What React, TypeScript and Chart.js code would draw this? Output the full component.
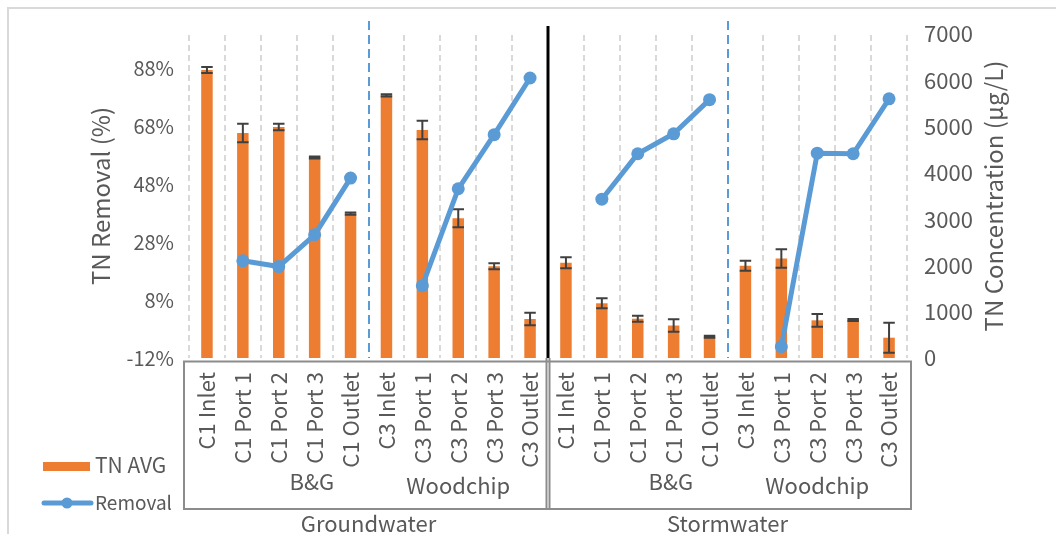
import { useEffect, useRef } from 'react';
import { Chart, registerables } from 'chart.js';

Chart.register(...registerables);

// Sampling points along each column, Groundwater columns first, then Stormwater
const categories = [
  'C1 Inlet', 'C1 Port 1', 'C1 Port 2', 'C1 Port 3', 'C1 Outlet',
  'C3 Inlet', 'C3 Port 1', 'C3 Port 2', 'C3 Port 3', 'C3 Outlet',
  'C1 Inlet', 'C1 Port 1', 'C1 Port 2', 'C1 Port 3', 'C1 Outlet',
  'C3 Inlet', 'C3 Port 1', 'C3 Port 2', 'C3 Port 3', 'C3 Outlet',
];
const mediaGroups = ['B&G', 'Woodchip', 'B&G', 'Woodchip'];
const waterGroups = ['Groundwater', 'Stormwater'];

// Mean TN concentration (µg/L) and its error
const tnAvg = [
  6220, 4860, 4990, 4330, 3120, 5675, 4925, 3020, 1980, 842,
  2057, 1182, 849, 702, 460, 1994, 2149, 814, 821, 439,
];
const tnErr = [
  65, 200, 69, 22, 25, 25, 200, 195, 65, 136,
  119, 108, 65, 134, 22, 108, 199, 137, 22, 324,
];

// TN removal (%) relative to the inlet; no value at the inlets
const removal = [
  null, 21.6, 19.6, 30.6, 50.2, null, 13.0, 46.5, 65.2, 84.8,
  null, 42.9, 58.6, 65.5, 77.3, null, -8.1, 58.8, 58.6, 77.6,
];

const removalTicks = [-12, 8, 28, 48, 68, 88];
const concMin = 0;
const concMax = 7000;
const concStep = 1000;

const FONT = "'Noto Sans CJK SC', 'Noto Sans', sans-serif";
const TEXT = '#595959';
const ORANGE = '#ED7D31';
const BLUE = '#5B9BD5';

const decor = {
  id: 'decor',
  beforeDatasetsDraw(chart: any) {
    const { ctx, chartArea: a, scales } = chart;
    const x = scales.x;
    const step = x.getPixelForValue(1) - x.getPixelForValue(0);
    const x0 = x.getPixelForValue(0) - step / 2;
    ctx.save();
    // outer frame
    ctx.strokeStyle = '#d9d9d9';
    ctx.lineWidth = 2;
    ctx.beginPath();
    ctx.moveTo(8, 560);
    ctx.lineTo(8, 8);
    ctx.lineTo(1070, 8);
    ctx.stroke();
    // column separators
    for (let i = 0; i <= categories.length; i++) {
      const bx = Math.round(x0 + i * step);
      ctx.beginPath();
      if (i === 10) {
        ctx.setLineDash([]);
        ctx.strokeStyle = '#000';
        ctx.lineWidth = 3;
        ctx.moveTo(bx, a.top - 8);
      } else if (i === 5 || i === 15) {
        ctx.setLineDash([9, 5]);
        ctx.strokeStyle = BLUE;
        ctx.lineWidth = 2;
        ctx.moveTo(bx, a.top - 13);
      } else {
        ctx.setLineDash([6, 4]);
        ctx.strokeStyle = '#d9d9d9';
        ctx.lineWidth = 2;
        ctx.moveTo(bx, a.top + 1);
      }
      ctx.lineTo(bx, a.bottom);
      ctx.stroke();
    }
    ctx.restore();
  },
  afterDatasetDraw(chart: any, args: any) {
    if (args.index !== 0) return;
    const { ctx, scales } = chart;
    const x = scales.x;
    const y = scales.yR;
    const meta = chart.getDatasetMeta(0);
    ctx.save();
    ctx.strokeStyle = '#404040';
    ctx.lineWidth = 2;
    tnAvg.forEach((v, i) => {
      const cx = x.getPixelForValue(i);
      const half = meta.data[i].width / 2;
      const yt = y.getPixelForValue(v + tnErr[i]);
      const yb = y.getPixelForValue(v - tnErr[i]);
      ctx.beginPath();
      ctx.moveTo(cx, yt);
      ctx.lineTo(cx, yb);
      ctx.moveTo(cx - half, yt);
      ctx.lineTo(cx + half, yt);
      ctx.moveTo(cx - half, yb);
      ctx.lineTo(cx + half, yb);
      ctx.stroke();
    });
    ctx.restore();
  },
  afterDraw(chart: any) {
    const { ctx, chartArea: a, scales } = chart;
    const x = scales.x;
    const step = x.getPixelForValue(1) - x.getPixelForValue(0);
    const x0 = x.getPixelForValue(0) - step / 2;
    const boxL = a.left - 5;
    const boxR = a.right + 4;
    const boxT = a.bottom + 3.5;
    const boxB = 509;
    ctx.save();
    // multi-level category box
    ctx.strokeStyle = '#8c8c8c';
    ctx.lineWidth = 2;
    ctx.strokeRect(boxL, boxT, boxR - boxL, boxB - boxT);
    const mid = x0 + 10 * step;
    ctx.beginPath();
    ctx.moveTo(mid - 1.5, a.bottom);
    ctx.lineTo(mid - 1.5, boxB);
    ctx.moveTo(mid + 1.5, a.bottom);
    ctx.lineTo(mid + 1.5, boxB);
    ctx.stroke();

    ctx.fillStyle = TEXT;
    // sampling point labels
    ctx.font = `22px ${FONT}`;
    categories.forEach((c, i) => {
      ctx.save();
      ctx.translate(x.getPixelForValue(i), a.bottom + 14);
      ctx.rotate(-Math.PI / 2);
      ctx.textAlign = 'right';
      ctx.textBaseline = 'middle';
      ctx.fillText(c, 0, 0);
      ctx.restore();
    });
    // media labels
    ctx.textAlign = 'center';
    ctx.textBaseline = 'alphabetic';
    mediaGroups.forEach((g, k) => {
      const cx = x0 + (k * 5 + 2.5) * step;
      if (g === 'B&G') ctx.fillText(g, cx + 33, 490);
      else ctx.fillText(g, cx, 494);
    });
    // water source labels
    waterGroups.forEach((g, k) => {
      const cx = x0 + (k * 10 + 5) * step;
      ctx.fillText(g, cx, 532);
    });

    // axis titles
    ctx.font = `24px ${FONT}`;
    ctx.save();
    ctx.translate(110, (a.top + a.bottom) / 2);
    ctx.rotate(-Math.PI / 2);
    ctx.fillText('TN Removal (%)', 0, 0);
    ctx.restore();
    ctx.save();
    ctx.translate(1003, (a.top + a.bottom) / 2);
    ctx.rotate(-Math.PI / 2);
    ctx.fillText('TN Concentration (µg/L)', 0, 0);
    ctx.restore();

    // legend
    ctx.textAlign = 'left';
    ctx.fillStyle = ORANGE;
    ctx.fillRect(43, 462, 47, 9);
    ctx.fillStyle = TEXT;
    ctx.font = `21px ${FONT}`;
    ctx.fillText(chart.data.datasets[0].label, 95, 473);
    ctx.strokeStyle = BLUE;
    ctx.lineWidth = 5;
    ctx.lineCap = 'round';
    ctx.beginPath();
    ctx.moveTo(44, 503);
    ctx.lineTo(91, 503);
    ctx.stroke();
    ctx.fillStyle = BLUE;
    ctx.beginPath();
    ctx.arc(67, 503, 5.5, 0, Math.PI * 2);
    ctx.fill();
    ctx.fillStyle = TEXT;
    ctx.font = `19px ${FONT}`;
    ctx.fillText(chart.data.datasets[1].label, 95, 510);
    ctx.restore();
  },
};

export default function App() {
  const ref = useRef<HTMLCanvasElement>(null);
  useEffect(() => {
    document.body.style.margin = '0';
    const chart = new Chart(ref.current as HTMLCanvasElement, {
      type: 'bar',
      data: {
        labels: categories,
        datasets: [
          {
            type: 'bar',
            label: 'TN AVG',
            data: tnAvg,
            yAxisID: 'yR',
            backgroundColor: ORANGE,
            barPercentage: 0.32,
            categoryPercentage: 1,
            order: 2,
          },
          {
            type: 'line',
            label: 'Removal',
            data: removal as any,
            yAxisID: 'yL',
            borderColor: BLUE,
            backgroundColor: BLUE,
            borderWidth: 5,
            pointRadius: 6.5,
            pointHoverRadius: 6.5,
            pointBorderWidth: 0,
            spanGaps: false,
            order: 1,
          },
        ],
      } as any,
      options: {
        responsive: false,
        animation: false,
        devicePixelRatio: 1,
        layout: { padding: { top: 34, left: 0, right: 0, bottom: 0 } },
        plugins: { legend: { display: false }, tooltip: { enabled: false } },
        scales: {
          x: {
            type: 'category',
            offset: true,
            grid: { display: false, drawTicks: false },
            border: { display: false },
            ticks: { display: false },
            afterFit: (s: any) => { s.height = 176; },
          },
          yL: {
            position: 'left',
            min: -12,
            max: 100,
            grid: { display: false, drawTicks: false },
            border: { display: false },
            afterBuildTicks: (s: any) => { s.ticks = removalTicks.map((v) => ({ value: v })); },
            ticks: {
              padding: 15,
              color: TEXT,
              font: { family: FONT, size: 20 },
              callback: (v: any) => `${v}%`,
            },
            afterFit: (s: any) => { s.width = 189; },
          },
          yR: {
            position: 'right',
            min: concMin,
            max: concMax,
            grid: { display: false, drawTicks: false },
            border: { display: false },
            ticks: {
              stepSize: concStep,
              padding: 17,
              color: TEXT,
              font: { family: FONT, size: 22 },
              callback: (v: any) => String(v),
            },
            afterFit: (s: any) => { s.width = 149; },
          },
        },
      } as any,
      plugins: [decor],
    });
    return () => chart.destroy();
  }, []);
  return (
    <div style={{ width: 1056, height: 534, background: '#fff' }}>
      <canvas ref={ref} width={1056} height={534} style={{ display: 'block' }} />
    </div>
  );
}
